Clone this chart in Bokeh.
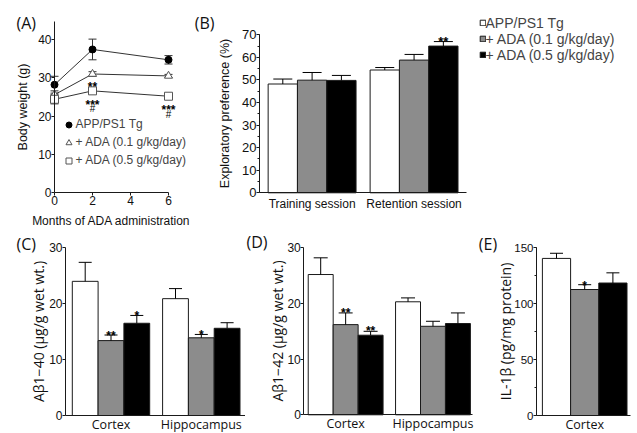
from bokeh.plotting import figure
from bokeh.models import (ColumnDataSource, Range1d, FixedTicker, SingleIntervalTicker,
                          Whisker, TeeHead, Legend, LegendItem, Label)
from bokeh.layouts import row, column
from bokeh.embed import file_html
from bokeh.resources import INLINE
from bokeh.core.properties import value

# ------------------------------------------------------------------ data
groups = ["APP/PS1 Tg", "+ ADA (0.1 g/kg/day)", "+ ADA (0.5 g/kg/day)"]

# (A) body weight
months = [0, 2, 6]
bw_tg = [28.2, 37.4, 34.7]
bw_tg_err = [2.2, 2.7, 1.1]
bw_low = [25.6, 31.0, 30.5]
bw_low_err = [1.0, 0.6, 0.4]
bw_high = [24.4, 26.6, 25.2]
bw_high_err = [1.2, 0.7, 0.5]
bw_xticks = [0, 2, 4, 6]
bw_yticks = [0, 10, 20, 30, 40]
bw_sig_low = ["", "**", ""]
bw_sig_high = ["", "***", "***"]
bw_hash_high = ["", "#", "#"]

# (B) exploratory preference
sessions = ["Training session", "Retention session"]
pref_tg = [48.2, 54.4]
pref_tg_err = [2.2, 1.1]
pref_low = [49.9, 58.8]
pref_low_err = [3.4, 2.5]
pref_high = [49.8, 65.0]
pref_high_err = [2.2, 2.0]
pref_sig = [["", ""], ["", ""], ["", "**"]]

# (C) Abeta 1-40
regions = ["Cortex", "Hippocampus"]
ab40_tg = [24.0, 20.9]
ab40_tg_err = [3.4, 1.8]
ab40_low = [13.4, 13.9]
ab40_low_err = [1.0, 0.6]
ab40_high = [16.5, 15.6]
ab40_high_err = [1.4, 1.0]
ab40_sig = [["", ""], ["**", "*"], ["*", ""]]

# (D) Abeta 1-42
ab42_tg = [25.2, 20.3]
ab42_tg_err = [3.0, 0.7]
ab42_low = [16.2, 15.9]
ab42_low_err = [2.1, 0.9]
ab42_high = [14.3, 16.4]
ab42_high_err = [0.7, 1.9]
ab42_sig = [["", ""], ["**", ""], ["**", ""]]

# (E) IL-1beta
il_regions = ["Cortex"]
il_tg = [140.5]
il_tg_err = [4.6]
il_low = [112.7]
il_low_err = [4.3]
il_high = [118.5]
il_high_err = [9.1]
il_sig = [[""], ["*"], [""]]

# ------------------------------------------------------------------ style
SANS = "Liberation Sans"
OPEN = "Open Sans"
INK = "#1a1a1a"
FILLS = ["white", "#8c8c8c", "black"]


def canvas_fig(W, H, x0_px, xpx, y0_px, ypx):
    """Figure whose plotting frame covers the whole canvas; axes are pinned inside."""
    xr = Range1d(-x0_px / xpx, (W - x0_px) / xpx)
    yr = Range1d((y0_px - H) / ypx, y0_px / ypx)
    p = figure(width=W, height=H, x_range=xr, y_range=yr,
               output_backend="svg", toolbar_location=None, title=None,
               min_border_left=0, min_border_right=0,
               min_border_top=0, min_border_bottom=0)
    p.outline_line_color = None
    p.xgrid.visible = False
    p.ygrid.visible = False
    p.background_fill_color = "white"
    p.border_fill_color = "white"
    for ax in (p.xaxis[0], p.yaxis[0]):
        ax.axis_line_color = INK
        ax.axis_line_width = 1
        ax.major_tick_line_color = INK
        ax.minor_tick_line_color = INK
        ax.major_tick_in = 0
        ax.minor_tick_in = 0
        ax.minor_tick_out = 2
        ax.major_label_text_color = "#111111"
        ax.major_label_text_font = SANS
        ax.axis_label_text_font_style = "normal"
        ax.axis_label_text_color = "#111111"
    return p


def tag(p, text, px, py, size="16px", font=OPEN, align="left"):
    H = p.height
    p.add_layout(Label(x=px, y=H - py, x_units="screen", y_units="screen", text=text,
                       text_font=font, text_font_size=size, text_baseline="middle",
                       text_align=align, text_color="#111111"))


def stars(p, xs, ys, labels, off, size="12px"):
    p.text(x=xs, y=ys, text=labels, text_font=value(SANS), text_font_style="bold",
           text_font_size=size, text_align="center", text_baseline="alphabetic",
           text_color="black", y_offset=off)


# ------------------------------------------------------------------ (A)
A_W, A_H = 193, 226
pA = canvas_fig(A_W, A_H, x0_px=54, xpx=19.0, y0_px=192.3, ypx=153.3 / 40)
xa, ya = pA.xaxis[0], pA.yaxis[0]
ya.fixed_location = 0
xa.fixed_location = 0
xa.bounds = (0, 6)
ya.bounds = (0, 44.7)
xa.ticker = FixedTicker(ticks=bw_xticks)
ya.ticker = FixedTicker(ticks=bw_yticks)
for ax in (xa, ya):
    ax.major_tick_out = 3
    ax.major_label_standoff = 0
    ax.major_label_text_font_size = "12px"
ya.axis_label = "Body weight (g)"
ya.axis_label_text_font = SANS
ya.axis_label_text_font_size = "12.5px"
ya.axis_label_standoff = 5
xa.axis_label = "Months of ADA administration"
xa.axis_label_text_font = SANS
xa.axis_label_text_font_size = "12px"
xa.axis_label_standoff = 6

A_STYLE = [dict(marker="circle", size=7, fill_color="black", line_color="black"),
           dict(marker="triangle", size=8, fill_color="white", line_color="#555555"),
           dict(marker="square", size=8, fill_color="white", line_color="#555555")]
a_items = []
for g, (vals, errs) in enumerate([(bw_tg, bw_tg_err), (bw_low, bw_low_err), (bw_high, bw_high_err)]):
    src = ColumnDataSource(dict(x=months, y=vals,
                                lo=[v - e for v, e in zip(vals, errs)],
                                hi=[v + e for v, e in zip(vals, errs)]))
    pA.line("x", "y", source=src, line_color="#333333", line_width=1)
    pA.add_layout(Whisker(base="x", lower="lo", upper="hi", source=src,
                          line_color="#333333", line_width=1,
                          upper_head=TeeHead(size=8, line_color="#333333", line_width=1),
                          lower_head=TeeHead(size=8, line_color="#333333", line_width=1)))
    r = pA.scatter("x", "y", source=src, line_width=1, **A_STYLE[g])
    a_items.append(LegendItem(label=groups[g], renderers=[r]))

stars(pA, months, bw_low, bw_sig_low, 13)
stars(pA, months, bw_high, bw_sig_high, 14)
pA.text(x=months, y=bw_high, text=bw_hash_high, text_font=value(SANS),
        text_font_size="10px", text_align="center", text_baseline="alphabetic",
        text_color="black", y_offset=18)

legA = Legend(items=a_items, location=(60.5, A_H - 169), padding=0, margin=0, spacing=0,
              label_standoff=0, glyph_width=15, glyph_height=15, label_height=18,
              label_text_font=SANS, label_text_font_size="12px",
              border_line_color=None, background_fill_alpha=0)
pA.add_layout(legA)
tag(pA, "(A)", 16, 22.8)


# ------------------------------------------------------------------ bar panels
def bar_panel(cats, series, errs, sigs, W, H, axis_px, first_px, bar_px, step,
              axis_end_px, y0_px, ypx, y_bound, y_tick, n_minor, cap, tick_size,
              ylabel, ylabel_font, ylabel_size, ylabel_standoff,
              cat_font, cat_size, cat_standoff, star_off, star_size="12px"):
    p = canvas_fig(W, H, x0_px=first_px, xpx=bar_px, y0_px=y0_px, ypx=ypx)
    axis_x = (axis_px - first_px) / bar_px
    centers = [i * step + 1 for i in range(len(cats))]
    rends = []
    for g in range(3):
        xs = [i * step + g for i in range(len(cats))]
        up = [v + e for v, e in zip(series[g], errs[g])]
        src = ColumnDataSource(dict(x=xs, top=series[g], up=up, sig=sigs[g]))
        r = p.vbar(x="x", top="top", bottom=0, width=1, source=src,
                   fill_color=FILLS[g], line_color=INK, line_width=1)
        p.add_layout(Whisker(base="x", lower="top", upper="up", source=src, level="overlay",
                             line_color="black", line_width=1,
                             upper_head=TeeHead(size=cap, line_color="black", line_width=1),
                             lower_head=None))
        p.text(x="x", y="up", text="sig", source=src, text_font=value(SANS),
               text_font_style="bold", text_font_size=star_size, text_align="center",
               text_baseline="alphabetic", text_color="black", y_offset=star_off)
        rends.append(r)
    xa, ya = p.xaxis[0], p.yaxis[0]
    xa.fixed_location = 0
    ya.fixed_location = axis_x
    xa.bounds = (axis_x, (axis_end_px - first_px) / bar_px)
    xa.ticker = FixedTicker(ticks=centers)
    xa.major_label_overrides = {c: cat for c, cat in zip(centers, cats)}
    xa.major_tick_out = 0
    xa.minor_tick_out = 0
    xa.major_label_standoff = cat_standoff
    xa.major_label_text_font = cat_font
    xa.major_label_text_font_size = cat_size
    ya.ticker = SingleIntervalTicker(interval=y_tick, num_minor_ticks=n_minor)
    ya.bounds = (0, y_bound)
    ya.major_tick_out = 3
    ya.major_label_standoff = 0
    ya.major_label_text_font_size = tick_size
    ya.axis_label = ylabel
    ya.axis_label_text_font = ylabel_font
    ya.axis_label_text_font_size = ylabel_size
    ya.axis_label_standoff = ylabel_standoff
    return p, rends


# (B)  canvas origin at (193, 0)
B_W, B_H = 444, 226
pB, rB = bar_panel(sessions, [pref_tg, pref_low, pref_high],
                   [pref_tg_err, pref_low_err, pref_high_err], pref_sig,
                   B_W, B_H, axis_px=66, first_px=89.3, bar_px=29.3, step=3.48,
                   axis_end_px=273, y0_px=192.3, ypx=158 / 70,
                   y_bound=70, y_tick=10, n_minor=2, cap=19, tick_size="13px",
                   ylabel="Exploratory preference (%)", ylabel_font=SANS,
                   ylabel_size="12.5px", ylabel_standoff=7,
                   cat_font=SANS, cat_size="12px", cat_standoff=4, star_off=0,
                   star_size="13px")
legB = Legend(items=[LegendItem(label=groups[g], renderers=[rB[g]]) for g in range(3)],
              location=(285.5, B_H - 62.7), padding=0, margin=0, spacing=0,
              label_standoff=0, glyph_width=7, glyph_height=7, label_height=16,
              label_text_font=SANS, label_text_font_size="14px",
              border_line_color=None, background_fill_alpha=0)
pB.add_layout(legB)
tag(pB, "(B)", 1.3, 22.5)

# (C)  canvas origin at (0, 226)
BOT_H = 207
pC, _ = bar_panel(regions, [ab40_tg, ab40_low, ab40_high],
                  [ab40_tg_err, ab40_low_err, ab40_high_err], ab40_sig,
                  245, BOT_H, axis_px=65, first_px=84.7, bar_px=25.8, step=3.5,
                  axis_end_px=245, y0_px=189, ypx=167.7 / 30,
                  y_bound=30, y_tick=10, n_minor=0, cap=13, tick_size="12px",
                  ylabel="A\u03b21\u221240 (\u03bcg/g wet wt.)", ylabel_font=OPEN,
                  ylabel_size="14px", ylabel_standoff=-2,
                  cat_font=OPEN, cat_size="12.5px", cat_standoff=0, star_off=1)
tag(pC, "(C)", 16, 17.3)

# (D)  canvas origin at (245, 226)
pD, _ = bar_panel(regions, [ab42_tg, ab42_low, ab42_high],
                  [ab42_tg_err, ab42_low_err, ab42_high_err], ab42_sig,
                  229, BOT_H, axis_px=58.3, first_px=75.2, bar_px=24.95, step=3.5,
                  axis_end_px=227, y0_px=188.3, ypx=167 / 30,
                  y_bound=30, y_tick=10, n_minor=0, cap=14, tick_size="12px",
                  ylabel="A\u03b21\u221242 (\u03bcg/g wet wt.)", ylabel_font=OPEN,
                  ylabel_size="14px", ylabel_standoff=-3,
                  cat_font=OPEN, cat_size="12.5px", cat_standoff=0, star_off=0)
tag(pD, "(D)", 1, 15.7)

# (E)  canvas origin at (474, 226)
pE, _ = bar_panel(il_regions, [il_tg, il_low, il_high],
                  [il_tg_err, il_low_err, il_high_err], il_sig,
                  163, BOT_H, axis_px=62, first_px=82, bar_px=28.2, step=3.5,
                  axis_end_px=156, y0_px=189, ypx=167.7 / 150,
                  y_bound=150, y_tick=50, n_minor=2, cap=13, tick_size="11.5px",
                  ylabel="IL-1\u03b2 (pg/mg protein)", ylabel_font=OPEN,
                  ylabel_size="14px", ylabel_standoff=-4,
                  cat_font=OPEN, cat_size="12.5px", cat_standoff=0, star_off=1)
tag(pE, "(E)", 4.3, 17.3)

layout = column(row(pA, pB), row(pC, pD, pE))
open("out.html", "w").write(file_html(layout, INLINE))
